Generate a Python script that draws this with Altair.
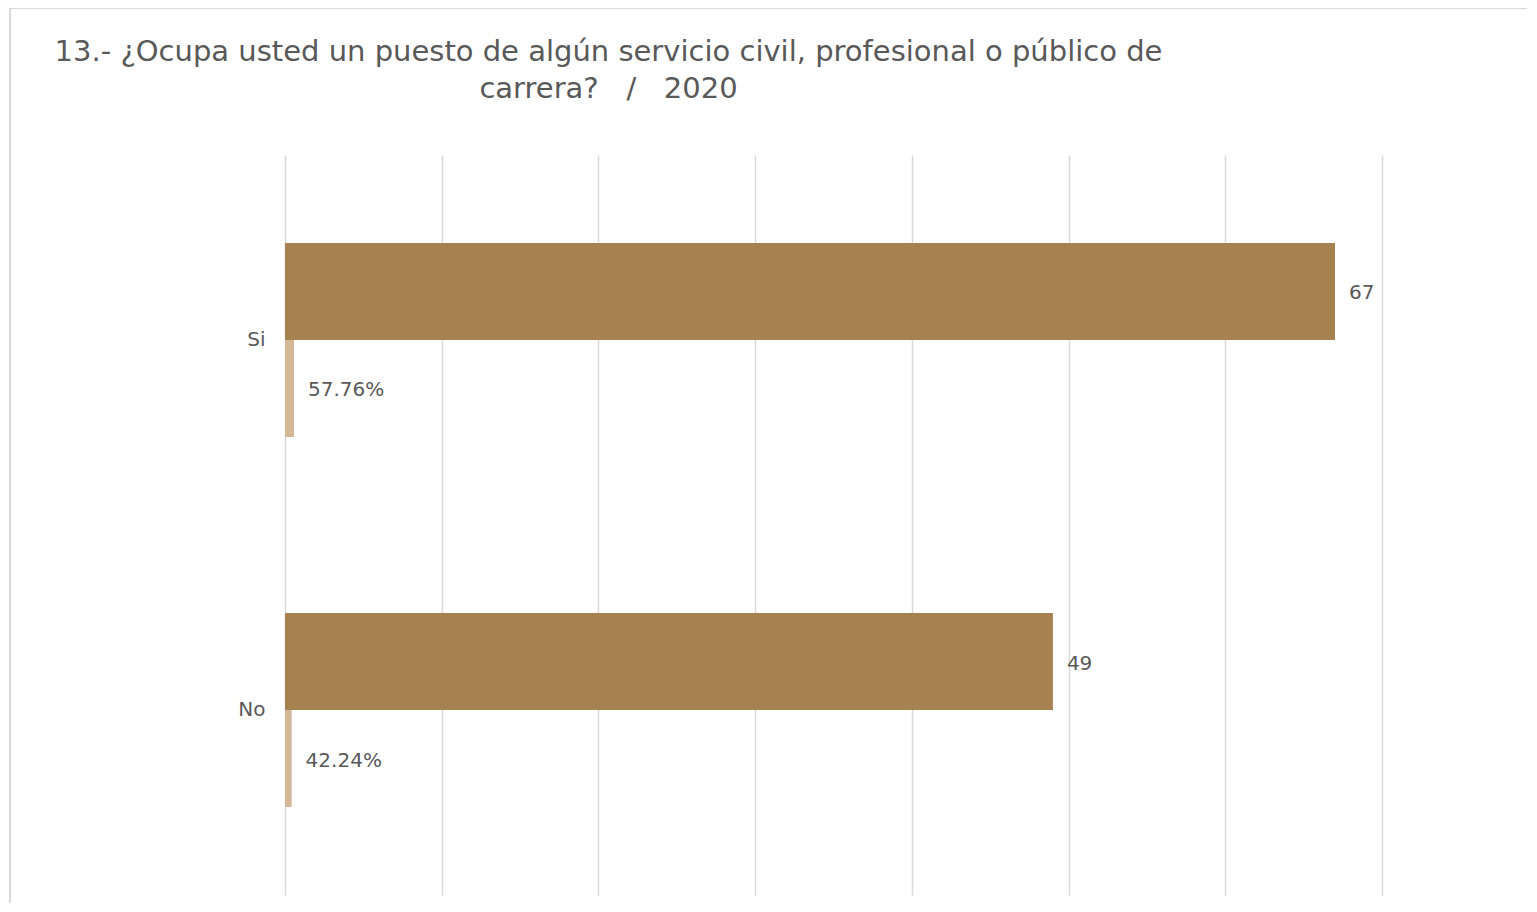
import altair as alt
import pandas as pd

categories = ["Si", "No"]
counts = [67, 49]
percents = [57.76, 42.24]
series = ["Cantidad", "Porcentaje"]
count_labels = ["67", "49"]
percent_labels = ["57.76%", "42.24%"]
title_lines = [
    "13.- ¿Ocupa usted un puesto de algún servicio civil, profesional o público de",
    "carrera?\u00a0\u00a0\u00a0/\u00a0\u00a0\u00a02020",
]

rows = []
for c, n, p, nl, pl in zip(categories, counts, percents, count_labels, percent_labels):
    rows.append({"cat": c, "serie": series[0], "valor": n, "etiqueta": nl})
    rows.append({"cat": c, "serie": series[1], "valor": p / 100.0, "etiqueta": pl})
df = pd.DataFrame(rows)

FONT = "DejaVu Sans"
GRAY = "#595959"

y_enc = alt.Y(
    "cat:N",
    sort=categories,
    title=None,
    scale=alt.Scale(paddingInner=0.4757, paddingOuter=0.2378),
    axis=alt.Axis(domain=False, ticks=False, labelPadding=20, labelFontSize=20,
                  labelColor=GRAY, labelFont=FONT, grid=False),
)
x_enc = alt.X(
    "valor:Q",
    title=None,
    scale=alt.Scale(domain=[0, 70], nice=False),
    axis=alt.Axis(values=[0, 10, 20, 30, 40, 50, 60, 70], labels=False, ticks=False,
                  domain=False, grid=True, gridColor="#D9D9D9", gridWidth=1.5),
)
yoff = alt.YOffset("serie:N", sort=series, scale=alt.Scale(paddingInner=0, paddingOuter=0))

base = alt.Chart(df)

bars = base.mark_bar().encode(
    x=x_enc,
    y=y_enc,
    yOffset=yoff,
    color=alt.Color("serie:N", sort=series,
                    scale=alt.Scale(domain=series, range=["#A68250", "#D3B796"]),
                    legend=None),
)

labels = base.mark_text(align="left", baseline="middle", dx=14, dy=2, fontSize=20,
                        font=FONT, color=GRAY).encode(
    x="valor:Q",
    y=alt.Y("cat:N", sort=categories),
    yOffset=alt.YOffset("serie:N", sort=series),
    text="etiqueta:N",
)

frame = alt.Chart(alt.Data(values=[{"k": 1}])).mark_rect(
    fill=None, stroke="#D9D9D9", strokeWidth=2
).encode(
    x=alt.value(-275), x2=alt.value(1400),
    y=alt.value(-147), y2=alt.value(900),
)

chart = alt.layer(frame, bars, labels).properties(
    width=1097,
    height=740,
    padding={"left": 277, "top": 147, "right": 145, "bottom": 8},
    autosize=alt.AutoSizeParams(type="none"),
    title=alt.TitleParams(
        text=title_lines,
        anchor="middle",
        align="center",
        dx=-225,
        dy=117,
        fontSize=29,
        font=FONT,
        fontWeight="normal",
        color=GRAY,
        lineHeight=37,
        offset=20,
    ),
).configure_view(stroke=None)

chart.save("out.html", embed_options={"renderer": "svg", "actions": False})
